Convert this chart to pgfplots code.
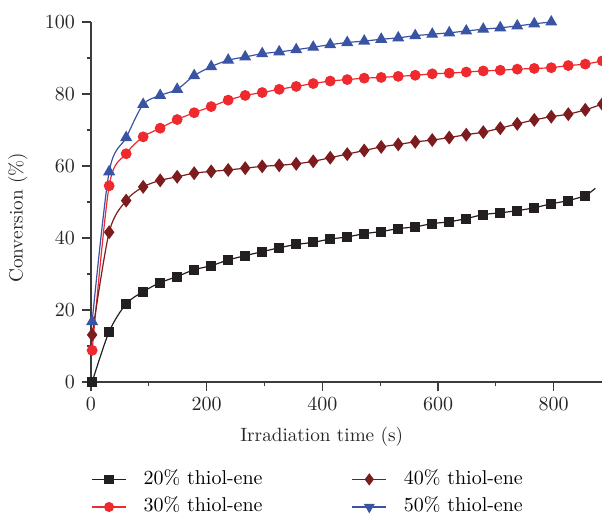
\documentclass[border=0pt]{standalone}
\usepackage{pgfplots}
\pgfplotsset{compat=1.18}

\definecolor{c20}{HTML}{231F20}
\definecolor{c30}{HTML}{EE2A2E}
\definecolor{c40}{HTML}{7D1C1F}
\definecolor{c50}{HTML}{3A54A4}
\definecolor{axisgray}{HTML}{3C3C3C}

\begin{document}
\begin{tikzpicture}
  \begin{axis}[
      scale only axis,
      width=255.5pt, height=180pt,
      xmin=0, xmax=883.5,
      ymin=0, ymax=100,
      axis lines=left,
      axis line style={-, draw=axisgray, line width=0.6pt},
      xtick={0,200,400,600,800},
      ytick={0,20,40,60,80,100},
      minor x tick num=1,
      minor y tick num=1,
      tick align=outside,
      major tick length=4.5pt,
      minor tick length=2.2pt,
      tick style={axisgray, line width=0.6pt},
      ticklabel style={font=\fontsize{10}{12}\selectfont, text=black!85},
      xlabel={Irradiation time (s)},
      ylabel={Conversion (\%)},
      label style={font=\fontsize{9.6}{11.5}\selectfont, text=black!85},
      xlabel style={at={(axis description cs:0.4515,-0.1528)}, anchor=center},
      ylabel style={at={(axis description cs:-0.143,0.456)}, anchor=center},
      clip=false,
      legend columns=2,
      transpose legend,
      legend cell align=left,
      legend style={draw=none, fill=none, inner sep=0pt,
        at={(axis description cs:0,-0.2333)}, anchor=north west,
        font=\fontsize{10}{12}\selectfont,
        nodes={text height=7pt, text depth=2pt, inner ysep=2pt},
        row sep=0.8pt,
        /tikz/every odd column/.append style={column sep=6.5pt},
        /tikz/every even column/.append style={column sep=42.5pt}},
    ]
    \addlegendimage{c20, line width=0.6pt, mark=square*, mark size=2pt}
    \addlegendentry{20\% thiol-ene}
    \addlegendimage{c30, line width=0.6pt, mark=*, mark size=2.2pt}
    \addlegendentry{30\% thiol-ene}
    \addlegendimage{c40, line width=0.6pt, mark=diamond*, mark size=2.6pt}
    \addlegendentry{40\% thiol-ene}
    \addlegendimage{c50, line width=0.6pt, mark=triangle*, mark size=2.6pt, mark options={rotate=180}}
    \addlegendentry{50\% thiol-ene}

    % 20% thiol-ene (last point only continues the line)
    \addplot[c20, line width=0.6pt, smooth, mark=square*, mark size=2.2pt,
      mark indices={1,...,30}] coordinates {
      (2,0) (31.4,14.0) (60.8,21.7) (90.2,25.1) (119.6,27.6) (149,29.3)
      (178.4,31.2) (207.8,32.3) (237.2,33.9) (266.6,35.1) (296,36.2)
      (325.4,37.3) (354.8,38.2) (384.2,38.8) (413.6,39.7) (443,40.3)
      (472.4,41.2) (501.8,41.8) (531.2,42.6) (560.6,43.1) (590,44.0)
      (619.4,44.5) (648.8,45.4) (678.2,46.5) (707.6,47.0) (737,47.6)
      (766.4,48.4) (795.8,49.5) (825.2,50.4) (854.6,51.8) (872,53.8)
    };
    % 30% thiol-ene
    \addplot[c30, line width=0.6pt, smooth, mark=*, mark size=2.4pt] coordinates {
      (2,8.8) (31.4,54.5) (60.8,63.4) (90.2,68.1) (119.6,70.5) (149,72.9)
      (178.4,74.8) (207.8,76.5) (237.2,78.3) (266.6,79.6) (296,80.4)
      (325.4,81.3) (354.8,82.1) (384.2,82.9) (413.6,83.6) (443,84.0)
      (472.4,84.4) (501.8,84.6) (531.2,84.9) (560.6,85.2) (590,85.6)
      (619.4,85.8) (648.8,86.1) (678.2,86.4) (707.6,86.6) (737,86.9)
      (766.4,87.1) (795.8,87.3) (825.2,87.9) (854.6,88.3) (884,89.2)
    };
    % 40% thiol-ene
    \addplot[c40, line width=0.6pt, smooth, mark=diamond*, mark size=3pt] coordinates {
      (2,13.1) (31.4,41.6) (60.8,50.4) (90.2,54.2) (119.6,56.0) (149,57.0)
      (178.4,58.0) (207.8,58.5) (237.2,58.9) (266.6,59.4) (296,59.9)
      (325.4,60.2) (354.8,60.6) (384.2,61.3) (413.6,62.3) (443,63.3)
      (472.4,64.3) (501.8,65.3) (531.2,66.0) (560.6,66.7) (590,67.2)
      (619.4,67.9) (648.8,68.7) (678.2,69.4) (707.6,70.5) (737,71.7)
      (766.4,72.8) (795.8,73.7) (825.2,74.4) (854.6,75.6) (884,77.2)
    };
    % 50% thiol-ene
    \addplot[c50, line width=0.6pt, smooth, mark=triangle*, mark size=2.9pt] coordinates {
      (2,16.8) (31.4,58.4) (60.8,67.9) (90.2,77.1) (119.6,79.6) (149,81.3)
      (178.4,85.1) (207.8,87.6) (237.2,89.4) (266.6,90.3) (296,91.2)
      (325.4,91.7) (354.8,92.3) (384.2,93.0) (413.6,93.7) (443,94.3)
      (472.4,94.7) (501.8,95.2) (531.2,95.6) (560.6,96.2) (590,96.6)
      (619.4,97.0) (648.8,97.5) (678.2,98.0) (707.6,98.4) (737,98.9)
      (766.4,99.5) (795.8,100.0)
    };

    \coordinate (ll) at (rel axis cs:0,0);
    \coordinate (ur) at (rel axis cs:1,1);
  \end{axis}
  \pgfresetboundingbox
  \useasboundingbox ([shift={(-45.5pt,-65.5pt)}]ll) rectangle ([shift={(0pt,11pt)}]ur);
\end{tikzpicture}
\end{document}
